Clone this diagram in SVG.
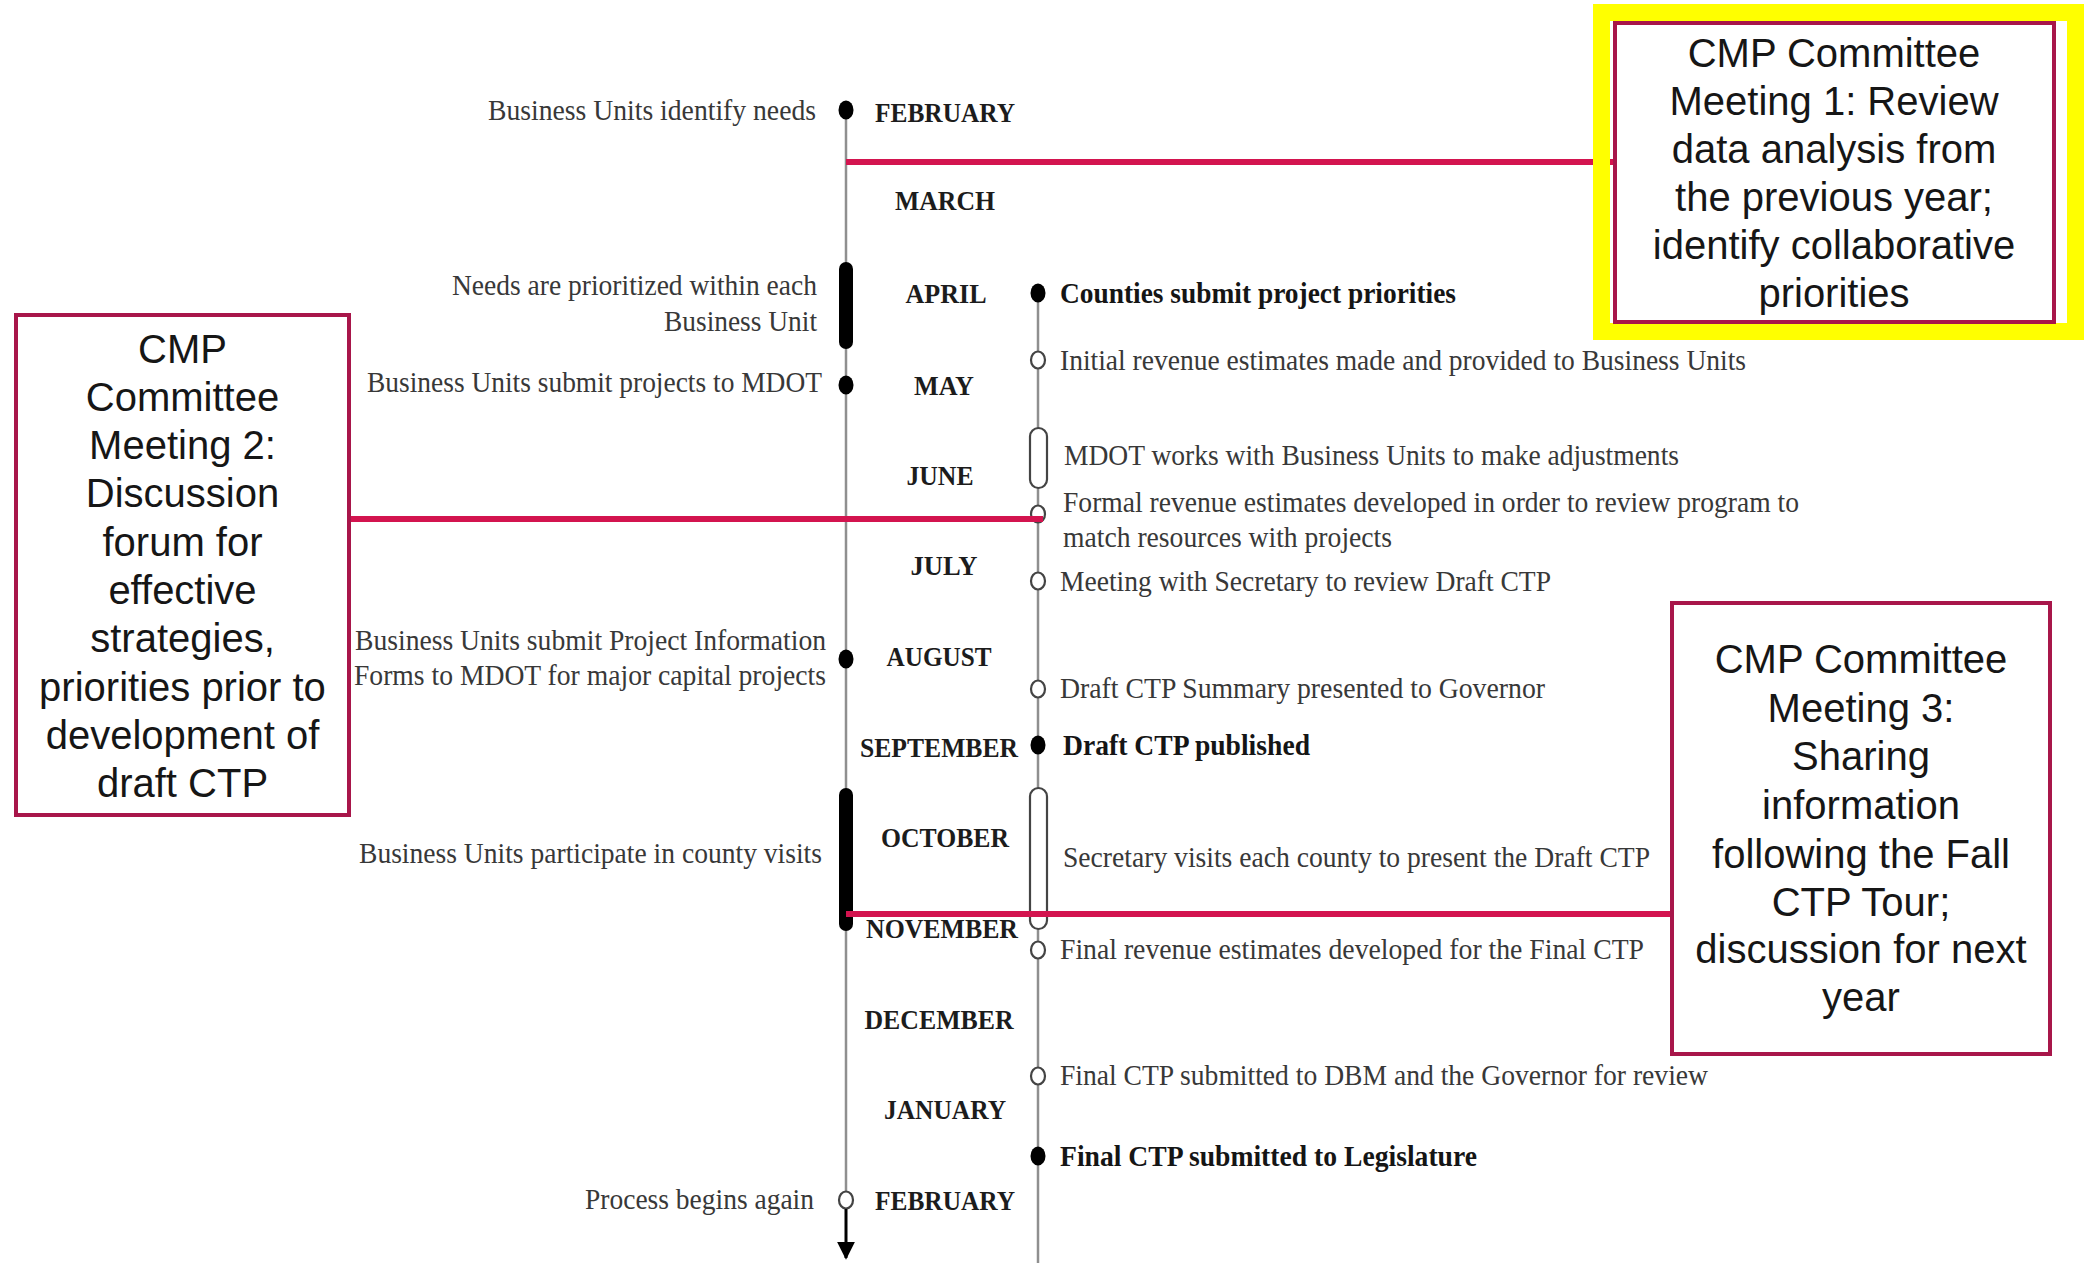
<svg xmlns="http://www.w3.org/2000/svg" width="2086" height="1263" viewBox="0 0 2086 1263">
<style>
.tl{stroke:#8f8f8f;stroke-width:2.5;fill:none}
.red{stroke:#d3144f;stroke-width:6;fill:none}
.box{fill:#fff;stroke:#a8164a;stroke-width:4}
.hl{fill:none;stroke:#ffff00;stroke-width:17}
.bt{font-family:"Liberation Sans",Arial,sans-serif;font-size:40px;fill:#161616;text-anchor:middle}
.ev{font-family:"Liberation Serif","Times New Roman",serif;font-size:30px;fill:#383838}
.evb{font-family:"Liberation Serif","Times New Roman",serif;font-size:30px;font-weight:bold;fill:#151515}
.l{text-anchor:end}
.mo{font-family:"Liberation Serif","Times New Roman",serif;font-size:27px;font-weight:bold;fill:#1c1c1c;text-anchor:middle}
.dot{fill:#000}
.open{fill:#fff;stroke:#444;stroke-width:2.2}
.bar{fill:#000}
.cap{fill:#fff;stroke:#444;stroke-width:2.2}
</style>
<defs>
<marker id="ah" viewBox="0 0 10 10" refX="9" refY="5" markerWidth="6" markerHeight="6" orient="auto" markerUnits="strokeWidth">
<path d="M0,0 L10,5 L0,10 z" fill="#000"/>
</marker>
</defs>
<rect width="2086" height="1263" fill="#fff"/>

<g id="timelines">
<line class="tl" x1="846" y1="110" x2="846" y2="1200"/>
<line class="tl" x1="1038" y1="293" x2="1038" y2="1263"/>
</g>

<g id="months">
<text class="mo" x="945" y="122" textLength="140" lengthAdjust="spacingAndGlyphs">FEBRUARY</text>
<text class="mo" x="945" y="210" textLength="100" lengthAdjust="spacingAndGlyphs">MARCH</text>
<text class="mo" x="946" y="303" textLength="81" lengthAdjust="spacingAndGlyphs">APRIL</text>
<text class="mo" x="944" y="395" textLength="60" lengthAdjust="spacingAndGlyphs">MAY</text>
<text class="mo" x="940" y="485" textLength="67" lengthAdjust="spacingAndGlyphs">JUNE</text>
<text class="mo" x="944" y="575" textLength="67" lengthAdjust="spacingAndGlyphs">JULY</text>
<text class="mo" x="939" y="666" textLength="105" lengthAdjust="spacingAndGlyphs">AUGUST</text>
<text class="mo" x="939" y="757" textLength="158" lengthAdjust="spacingAndGlyphs">SEPTEMBER</text>
<text class="mo" x="945" y="847" textLength="128" lengthAdjust="spacingAndGlyphs">OCTOBER</text>
<text class="mo" x="942" y="938" textLength="152" lengthAdjust="spacingAndGlyphs">NOVEMBER</text>
<text class="mo" x="939" y="1029" textLength="149" lengthAdjust="spacingAndGlyphs">DECEMBER</text>
<text class="mo" x="945" y="1119" textLength="122" lengthAdjust="spacingAndGlyphs">JANUARY</text>
<text class="mo" x="945" y="1210" textLength="140" lengthAdjust="spacingAndGlyphs">FEBRUARY</text>
</g>

<g id="left-events">
<text class="ev l" x="816" y="120" textLength="328" lengthAdjust="spacingAndGlyphs">Business Units identify needs</text>
<text class="ev l" x="817" y="295" textLength="365" lengthAdjust="spacingAndGlyphs">Needs are prioritized within each</text>
<text class="ev l" x="817" y="331" textLength="153" lengthAdjust="spacingAndGlyphs">Business Unit</text>
<text class="ev l" x="822" y="392" textLength="455" lengthAdjust="spacingAndGlyphs">Business Units submit projects to MDOT</text>
<text class="ev l" x="826" y="650" textLength="471" lengthAdjust="spacingAndGlyphs">Business Units submit Project Information</text>
<text class="ev l" x="826" y="685" textLength="472" lengthAdjust="spacingAndGlyphs">Forms to MDOT for major capital projects</text>
<text class="ev l" x="822" y="863" textLength="463" lengthAdjust="spacingAndGlyphs">Business Units participate in county visits</text>
<text class="ev l" x="814" y="1209" textLength="229" lengthAdjust="spacingAndGlyphs">Process begins again</text>
</g>

<g id="right-events">
<text class="evb" x="1060" y="303" textLength="396" lengthAdjust="spacingAndGlyphs">Counties submit project priorities</text>
<text class="ev" x="1060" y="370" textLength="686" lengthAdjust="spacingAndGlyphs">Initial revenue estimates made and provided to Business Units</text>
<text class="ev" x="1064" y="465" textLength="615" lengthAdjust="spacingAndGlyphs">MDOT works with Business Units to make adjustments</text>
<text class="ev" x="1063" y="512" textLength="736" lengthAdjust="spacingAndGlyphs">Formal revenue estimates developed in order to review program to</text>
<text class="ev" x="1063" y="547" textLength="329" lengthAdjust="spacingAndGlyphs">match resources with projects</text>
<text class="ev" x="1060" y="591" textLength="491" lengthAdjust="spacingAndGlyphs">Meeting with Secretary to review Draft CTP</text>
<text class="ev" x="1060" y="698" textLength="485" lengthAdjust="spacingAndGlyphs">Draft CTP Summary presented to Governor</text>
<text class="evb" x="1063" y="755" textLength="247" lengthAdjust="spacingAndGlyphs">Draft CTP published</text>
<text class="ev" x="1063" y="867" textLength="587" lengthAdjust="spacingAndGlyphs">Secretary visits each county to present the Draft CTP</text>
<text class="ev" x="1060" y="959" textLength="584" lengthAdjust="spacingAndGlyphs">Final revenue estimates developed for the Final CTP</text>
<text class="ev" x="1060" y="1085" textLength="648" lengthAdjust="spacingAndGlyphs">Final CTP submitted to DBM and the Governor for review</text>
<text class="evb" x="1060" y="1166" textLength="417" lengthAdjust="spacingAndGlyphs">Final CTP submitted to Legislature</text>
</g>

<g id="markers">
<ellipse class="dot" cx="846" cy="110" rx="7.5" ry="9.5"/>
<rect class="bar" x="839" y="262" width="14" height="87" rx="7"/>
<ellipse class="dot" cx="846" cy="385" rx="7.5" ry="9.5"/>
<ellipse class="dot" cx="846" cy="659" rx="7.5" ry="9.5"/>
<rect class="bar" x="839" y="788" width="14" height="143" rx="7"/>
<ellipse class="open" cx="846" cy="1200" rx="7" ry="8.5"/>
<ellipse class="dot" cx="1038" cy="293" rx="7.5" ry="9.5"/>
<ellipse class="open" cx="1038" cy="360" rx="7" ry="8.5"/>
<rect class="cap" x="1030" y="428" width="17" height="60" rx="8.5"/>
<ellipse class="open" cx="1038" cy="514" rx="7" ry="8.5"/>
<ellipse class="open" cx="1038" cy="581" rx="7" ry="8.5"/>
<ellipse class="open" cx="1038" cy="689" rx="7" ry="8.5"/>
<ellipse class="dot" cx="1038" cy="745" rx="7.5" ry="9.5"/>
<rect class="cap" x="1030" y="788" width="17" height="141" rx="8.5"/>
<ellipse class="open" cx="1038" cy="950" rx="7" ry="8.5"/>
<ellipse class="open" cx="1038" cy="1076" rx="7" ry="8.5"/>
<ellipse class="dot" cx="1038" cy="1156" rx="7.5" ry="9.5"/>
</g>

<g id="connectors">
<line x1="846" y1="1209" x2="846" y2="1258" stroke="#000" stroke-width="3" marker-end="url(#ah)"/>
<line class="red" x1="846" y1="162" x2="1615" y2="162"/>
<line class="red" x1="349" y1="519" x2="1043" y2="519"/>
<line class="red" x1="846" y1="914" x2="1672" y2="914"/>
</g>

<g id="meeting1">
<rect class="hl" x="1601.5" y="12.5" width="474" height="319"/>
<rect class="box" x="1615" y="23" width="439" height="299"/>
<text class="bt" x="1834" y="67">CMP Committee</text>
<text class="bt" x="1834" y="115">Meeting 1: Review</text>
<text class="bt" x="1834" y="163">data analysis from</text>
<text class="bt" x="1834" y="211">the previous year;</text>
<text class="bt" x="1834" y="259">identify collaborative</text>
<text class="bt" x="1834" y="307">priorities</text>
</g>

<g id="meeting2">
<rect class="box" x="16" y="315" width="333" height="500"/>
<text class="bt" x="182.5" y="363">CMP</text>
<text class="bt" x="182.5" y="411">Committee</text>
<text class="bt" x="182.5" y="459">Meeting 2:</text>
<text class="bt" x="182.5" y="507">Discussion</text>
<text class="bt" x="182.5" y="556">forum for</text>
<text class="bt" x="182.5" y="604">effective</text>
<text class="bt" x="182.5" y="652">strategies,</text>
<text class="bt" x="182.5" y="701">priorities prior to</text>
<text class="bt" x="182.5" y="749">development of</text>
<text class="bt" x="182.5" y="797">draft CTP</text>
</g>

<g id="meeting3">
<rect class="box" x="1672" y="603" width="378" height="451"/>
<text class="bt" x="1861" y="673">CMP Committee</text>
<text class="bt" x="1861" y="722">Meeting 3:</text>
<text class="bt" x="1861" y="770">Sharing</text>
<text class="bt" x="1861" y="819">information</text>
<text class="bt" x="1861" y="868">following the Fall</text>
<text class="bt" x="1861" y="916">CTP Tour;</text>
<text class="bt" x="1861" y="963">discussion for next</text>
<text class="bt" x="1861" y="1011">year</text>
</g>
</svg>
